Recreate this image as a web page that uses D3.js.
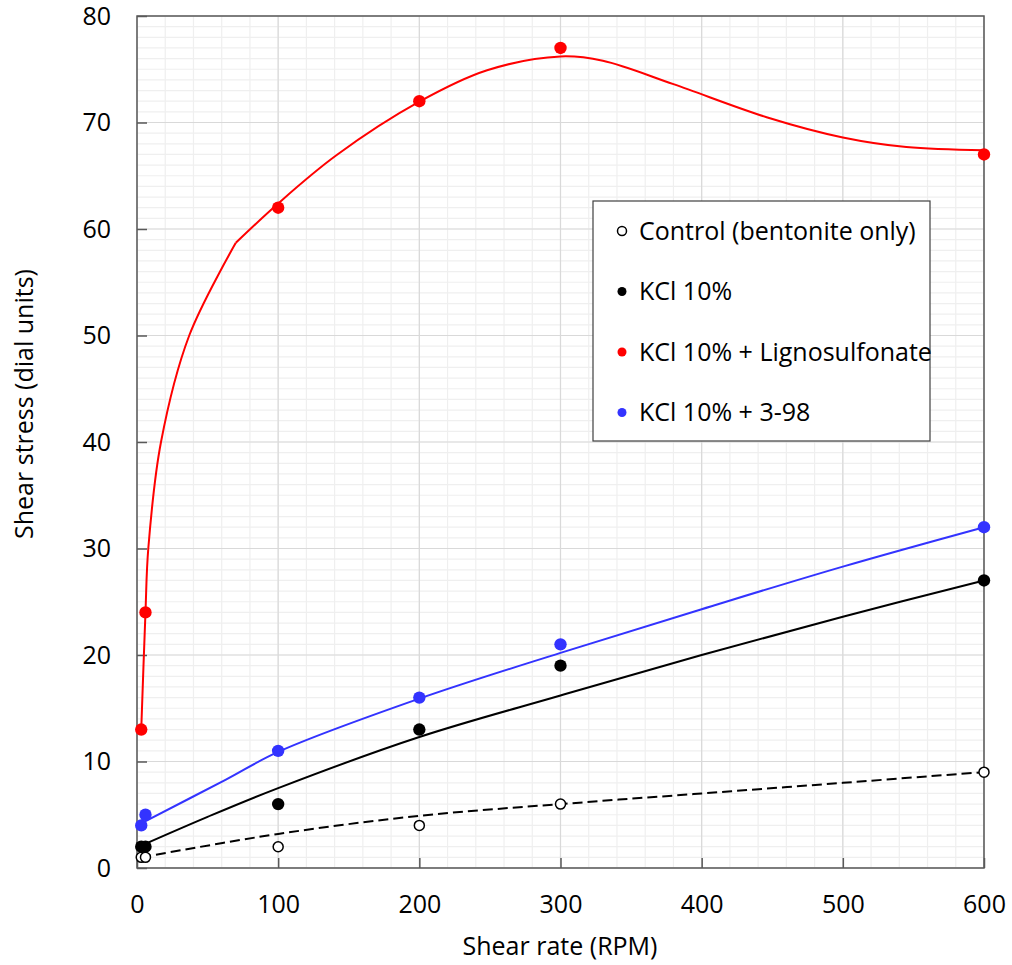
<!DOCTYPE html>
<html>
<head>
<meta charset="utf-8">
<script src="https://cdn.jsdelivr.net/npm/d3@7"></script>
<style>
  body { margin: 0; background: #fff; }
  text { font-family: "Open Sans", sans-serif; fill: #000; }
</style>
</head>
<body>
<script>
// Measured points (shear rate in RPM vs dial reading)
var rpm = [3, 6, 100, 200, 300, 600];
var control = [1, 1, 2, 4, 6, 9];
var kcl = [2, 2, 6, 13, 19, 27];
var ligno = [13, 24, 62, 72, 77, 67];
var kcl398 = [4, 5, 11, 16, 21, 32];

// Trend lines: [rpm, dial]
var controlFit = [[3, 1.0], [100, 3.2], [200, 4.9], [300, 6.0], [400, 7.0], [500, 8.0], [600, 9.0]];
var kclFit = [[3, 2.1], [50, 4.8], [100, 7.5], [200, 12.3], [300, 16.2], [400, 20.0], [500, 23.6], [600, 27.0]];
var lignoFitA = [[3, 13], [6, 24], [8, 30], [17, 40], [37, 50], [70, 58.7]];
var lignoFitB = [[70, 58.7], [100, 62.4], [141, 66.9], [200, 71.95], [248, 74.9], [300, 76.2], [330, 75.8],
                 [380, 73.6], [446, 70.5], [500, 68.6], [545, 67.7], [600, 67.4]];
var kcl398Fit = [[3, 4.2], [63, 8.3], [100, 10.9], [200, 15.9], [300, 20.2], [400, 24.3], [500, 28.3], [600, 32.0]];

var xTicks = [0, 100, 200, 300, 400, 500, 600];
var yTicks = [0, 10, 20, 30, 40, 50, 60, 70, 80];

var legendLabels = ['Control (bentonite only)', 'KCl 10%', 'KCl 10% + Lignosulfonate', 'KCl 10% + 3-98'];
var legendColors = ['none', '#000000', '#ff0000', '#3333ff'];

// Plot boundaries
var margin = {top: 16, right: 28, bottom: 97, left: 137},
    width = 1012 - margin.left - margin.right,
    height = 965 - margin.top - margin.bottom;

var xScale = d3.scaleLinear().domain([0, 600]).range([0, width]),
    yScale = d3.scaleLinear().domain([0, 80]).range([height, 0]);

var svg = d3.select('body').append('svg')
    .attr('width', 1012)
    .attr('height', 965);

var g = svg.append('g')
    .attr('transform', 'translate(' + margin.left + ',' + margin.top + ')');

// Minor grid
g.append('g').selectAll('line')
    .data(d3.range(0, 601, 20))
    .enter().append('line')
    .attr('x1', d => xScale(d)).attr('x2', d => xScale(d))
    .attr('y1', 0).attr('y2', height)
    .attr('stroke', '#efefef').attr('stroke-width', 1.2);

g.append('g').selectAll('line')
    .data(d3.range(0, 81, 1))
    .enter().append('line')
    .attr('x1', 0).attr('x2', width)
    .attr('y1', d => yScale(d)).attr('y2', d => yScale(d))
    .attr('stroke', '#efefef').attr('stroke-width', 1.2);

// Major grid
g.append('g').selectAll('line')
    .data(xTicks)
    .enter().append('line')
    .attr('x1', d => xScale(d)).attr('x2', d => xScale(d))
    .attr('y1', 0).attr('y2', height)
    .attr('stroke', '#d9d9d9').attr('stroke-width', 1.2);

g.append('g').selectAll('line')
    .data(yTicks)
    .enter().append('line')
    .attr('x1', 0).attr('x2', width)
    .attr('y1', d => yScale(d)).attr('y2', d => yScale(d))
    .attr('stroke', '#d9d9d9').attr('stroke-width', 1.2);

// Axes (ticks inside the plot)
var yAxis = g.append('g')
    .call(d3.axisLeft(yScale).tickValues(yTicks).tickSizeInner(-10).tickSizeOuter(0).tickPadding(26));
var xAxis = g.append('g')
    .attr('transform', 'translate(0,' + height + ')')
    .call(d3.axisBottom(xScale).tickValues(xTicks).tickSizeInner(-10).tickSizeOuter(0).tickPadding(27));

[yAxis, xAxis].forEach(function(a) {
    a.select('.domain').remove();
    a.selectAll('.tick line').attr('stroke', '#595959').attr('stroke-width', 1.5);
    a.selectAll('.tick text').style('font-family', '"Open Sans", sans-serif')
        .style('font-size', '25px').attr('fill', '#000');
});

// Plot frame
g.append('rect')
    .attr('width', width).attr('height', height)
    .attr('fill', 'none').attr('stroke', '#595959').attr('stroke-width', 1.5);

// Trend lines
var smooth = d3.line()
    .x(function(d) { return xScale(d[0]); })
    .y(function(d) { return yScale(d[1]); })
    .curve(d3.curveCatmullRom.alpha(0.5));

g.append('path').attr('d', smooth(controlFit))
    .attr('fill', 'none').attr('stroke', '#000').attr('stroke-width', 2).attr('stroke-dasharray', '10,5');
g.append('path').attr('d', smooth(kclFit))
    .attr('fill', 'none').attr('stroke', '#000').attr('stroke-width', 2);
g.append('path').attr('d', smooth(lignoFitA))
    .attr('fill', 'none').attr('stroke', '#ff0000').attr('stroke-width', 2);
g.append('path').attr('d', smooth(lignoFitB))
    .attr('fill', 'none').attr('stroke', '#ff0000').attr('stroke-width', 2);
g.append('path').attr('d', smooth(kcl398Fit))
    .attr('fill', 'none').attr('stroke', '#3333ff').attr('stroke-width', 2);

// Markers
function drawPoints(values, fill, stroke, r) {
    g.append('g').selectAll('circle')
        .data(values)
        .enter().append('circle')
        .attr('cx', function(d, i) { return xScale(rpm[i]); })
        .attr('cy', function(d) { return yScale(d); })
        .attr('r', r)
        .attr('fill', fill)
        .attr('stroke', stroke)
        .attr('stroke-width', stroke === 'none' ? 0 : 1.5);
}
drawPoints(ligno, '#ff0000', 'none', 6.2);
drawPoints(kcl398, '#3333ff', 'none', 6.2);
drawPoints(kcl, '#000000', 'none', 6.2);
drawPoints(control, '#ffffff', '#000000', 5);

// Legend
var legend = svg.append('g').attr('transform', 'translate(593,201)');
legend.append('rect')
    .attr('width', 337).attr('height', 240)
    .attr('fill', '#fff').attr('stroke', '#404040').attr('stroke-width', 1.2);

var items = legend.selectAll('g')
    .data(legendLabels)
    .enter().append('g')
    .attr('transform', function(d, i) { return 'translate(0,' + (30 + i * 60.5) + ')'; });

items.append('circle')
    .attr('cx', 29).attr('cy', 0).attr('r', 4.5)
    .attr('fill', function(d, i) { return legendColors[i] === 'none' ? '#fff' : legendColors[i]; })
    .attr('stroke', function(d, i) { return legendColors[i] === 'none' ? '#000' : 'none'; })
    .attr('stroke-width', 1.5);

items.append('text')
    .attr('x', 46).attr('y', 0).attr('dy', '0.35em')
    .style('font-size', '25px')
    .text(function(d) { return d; });

// Axis titles
svg.append('text')
    .attr('x', 560).attr('y', 955)
    .attr('text-anchor', 'middle')
    .style('font-size', '25px')
    .text('Shear rate (RPM)');

svg.append('text')
    .attr('transform', 'translate(24,404) rotate(-90)')
    .attr('text-anchor', 'middle')
    .attr('dy', '0.35em')
    .style('font-size', '25px')
    .text('Shear stress (dial units)');
</script>
</body>
</html>
